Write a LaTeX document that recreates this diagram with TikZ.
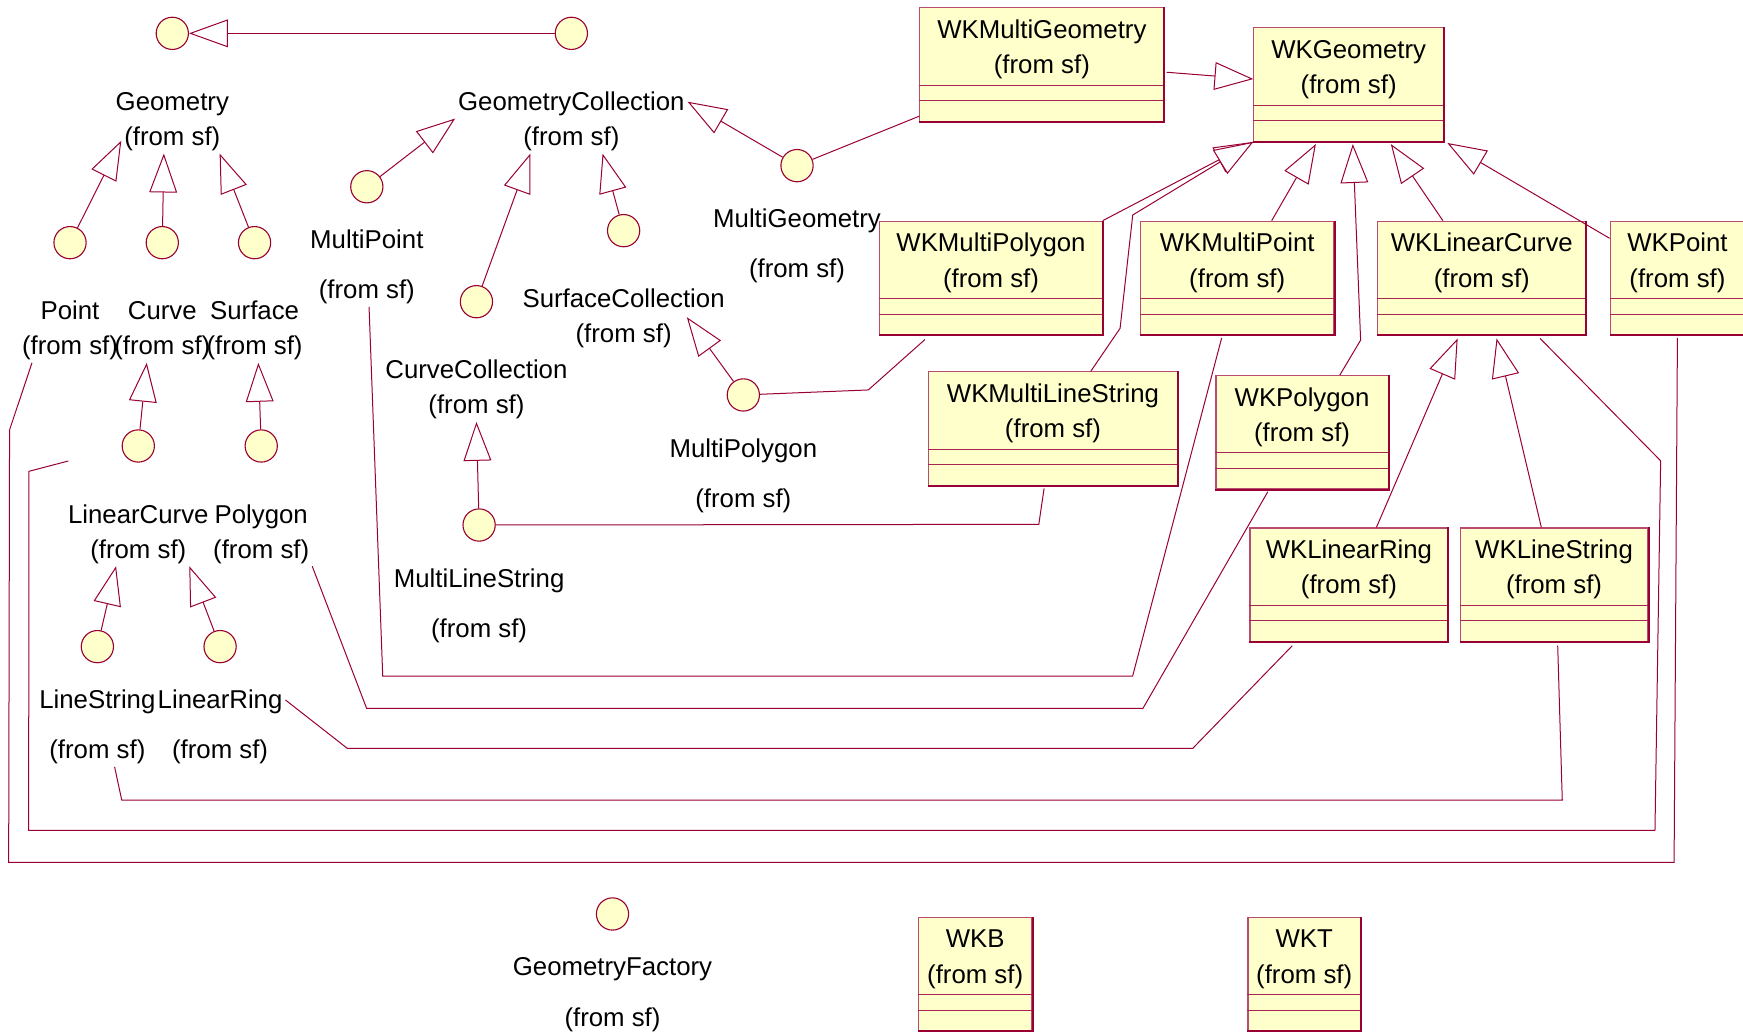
\documentclass[tikz,border=0pt]{standalone}
\usepackage{fontspec}
\setmainfont{Liberation Sans}
\usetikzlibrary{arrows.meta}

\definecolor{umlline}{RGB}{153,0,51}
\definecolor{umlfill}{RGB}{255,255,204}

\tikzset{
  iface/.style={circle, draw=umlline, fill=umlfill, line width=1pt, minimum size=29pt, inner sep=0pt},
  lbl/.style={font=\fontsize{23.2}{27}\selectfont, text height=18.5pt, text depth=2.8pt,
              inner xsep=2.5pt, inner ysep=4.3pt},
  conn/.style={draw=umlline, line width=0.9pt},
  gen/.style={conn, -{Triangle[length=35pt, width=25pt, fill=white]}},
  classbox/.style={rectangle, draw=umlline!70, fill=umlfill, line width=1pt,
                   minimum height=102pt, inner sep=0pt},
  compline/.style={draw=umlline!85, line width=0.9pt},
  boxedge/.style={draw=umlline, line width=1.8pt},
}

% class box: name, left, top, width, title
\newcommand\umlclass[5]{%
  \node[classbox, minimum width=#4pt, anchor=north west] (#1) at (#2,#3) {};
  \draw[compline] ([yshift=-70pt]#1.north west) -- ([yshift=-70pt]#1.north east);
  \draw[compline] ([yshift=-84pt]#1.north west) -- ([yshift=-84pt]#1.north east);
  \draw[boxedge] (#1.north east) -- (#1.south east) -- (#1.south west);
  \node[lbl] (#1-t) at ([yshift=-20pt]#1.north) {#5};
  \node[lbl] (#1-f) at ([yshift=-52pt]#1.north) {(from sf)};
}

% interface icon: name, x, y, title, drop of the title below the icon
\newcommand\umliface[5]{%
  \node[iface] (#1) at (#2,#3) {};
  \node[lbl] (#1-t) at ([yshift=-#5pt]#1.center) {#4};
  \node[lbl] (#1-f) at ([yshift=-93pt]#1.center) {(from sf)};
}

\begin{document}
\begin{tikzpicture}[x=1pt, y=-1pt]
\useasboundingbox (0,0) rectangle (1568,928.4);

% ---- interfaces ----
\umliface{geometry}{155}{30}{Geometry}{61.5}
\umliface{geomcoll}{514}{30}{GeometryCollection}{61.5}
\umliface{point}{63}{218.3}{Point}{61.5}
\umliface{curve}{146}{218.3}{Curve}{61.5}
\umliface{surface}{229}{218.3}{Surface}{61.5}
\umliface{multipoint}{330}{168}{MultiPoint}{47.3}
\umliface{curvecoll}{428.6}{271.4}{CurveCollection}{61.5}
\umliface{surfcoll}{561}{207.5}{SurfaceCollection}{61.5}
\umliface{multigeom}{717}{149}{MultiGeometry}{47.4}
\umliface{multipoly}{668.7}{355.3}{MultiPolygon}{48}
\umliface{multils}{431}{472.3}{MultiLineString}{48}
\umliface{linearcurve}{124.4}{401.2}{LinearCurve}{62}
\umliface{polygon}{235}{401.2}{Polygon}{62}
\umliface{linestring}{87.6}{581.7}{LineString}{48}
\umliface{linearring}{198}{581.7}{LinearRing}{48}
\umliface{geomfactory}{551}{822.2}{GeometryFactory}{47.4}

% ---- classes ----
\umlclass{wkmg}{827}{6.5}{219.5}{WKMultiGeometry}
\umlclass{wkgeom}{1127.5}{24.6}{170.5}{WKGeometry}
\umlclass{wkmpoly}{791}{198.5}{200}{WKMultiPolygon}
\umlclass{wkmpt}{1025.5}{198.5}{174}{WKMultiPoint}
\umlclass{wklc}{1239}{198.5}{187}{WKLinearCurve}
\umlclass{wkpt}{1448}{198.5}{121}{WKPoint}
\umlclass{wkmls}{834.5}{334}{224.5}{WKMultiLineString}
\umlclass{wkpoly}{1093.4}{337.4}{154.8}{WKPolygon}
\umlclass{wklr}{1124}{474.5}{178}{WKLinearRing}
\umlclass{wkls}{1313}{474.5}{169}{WKLineString}
\umlclass{wkb}{825.6}{824.6}{102.3}{WKB}
\umlclass{wkt}{1122.2}{824.6}{101.1}{WKT}

% ---- interface generalizations ----
\draw[gen] (geomcoll) -- (geometry);
\draw[gen] (point) -- ([yshift=-3.6pt]geometry-f.west);
\draw[gen] (curve) -- ([xshift=-7.6pt]geometry-f.south);
\draw[gen] (surface) -- ([xshift=-3.3pt]geometry-f.south east);
\draw[gen] (multipoint) -- (geomcoll-t.south west);
\draw[gen] (curvecoll) -- ([xshift=9pt]geomcoll-f.south west);
\draw[gen] (surfcoll) -- ([xshift=-17.8pt]geomcoll-f.south east);
\draw[gen] (multigeom) -- (geomcoll-t.east);
\draw[gen] (multipoly) -- ([xshift=11pt]surfcoll-f.north east);
\draw[gen] (multils) -- (curvecoll-f.south);
\draw[gen] (linearcurve) -- ([xshift=-14pt]curve-f.south);
\draw[gen] (polygon) -- ([xshift=3.4pt]surface-f.south);
\draw[gen] (linestring) -- ([xshift=-20pt]linearcurve-f.south);
\draw[gen] (linearring) -- (linearcurve-f.south east);

% ---- class generalizations ----
\draw[gen] ([xshift=2pt,yshift=-7pt]wkmg.east) -- ([yshift=5pt]wkgeom.west);
\draw[gen] (wkmpoly.north east) -- (wkgeom.south west);
\draw[gen] ([xshift=34pt]wkmls.north) -- (1007.6,295.4) -- (1019,193.4) -- (wkgeom.south west);
\draw[gen] ([xshift=31pt]wkmpt.north) -- ([xshift=-29.5pt,yshift=-2pt]wkgeom.south);
\draw[gen] ([xshift=34pt]wkpoly.north) -- (1224,306) -- ([xshift=3.75pt,yshift=-2pt]wkgeom.south);
\draw[gen] ([xshift=-35pt]wklc.north) -- ([xshift=37.9pt,yshift=-2pt]wkgeom.south);
\draw[gen] ([yshift=-15.9pt]wkpt.north west) -- ([xshift=3pt,yshift=-1pt]wkgeom.south east);
\draw[gen] ([xshift=24.7pt]wklr.north) -- ([xshift=-21.7pt,yshift=-3pt]wklc.south);
\draw[gen] ([xshift=-11.4pt]wkls.north) -- ([xshift=13.3pt,yshift=-3pt]wklc.south);

% ---- realizations ----
\draw[conn] (multigeom) -- ([yshift=5pt]wkmg.south west);
\draw[conn] (multipoly) -- (781.1,350.8) -- ([xshift=41pt,yshift=-4pt]wkmpoly.south west);
\draw[conn] (multils) -- (934.5,471.7) -- ([xshift=-8pt,yshift=-2.4pt]wkmls.south);
\draw[conn] ([xshift=2pt]multipoint-f.south) -- (344.3,608.2) -- (1018.9,608.2)
            -- ([xshift=-14pt,yshift=-2.5pt]wkmpt.south);
\draw[conn] (polygon-f.south east) -- (329.8,637.2) -- (1028.2,637.2)
            -- ([xshift=-30.8pt,yshift=-2pt]wkpoly.south);
\draw[conn] (linearring-t.east) -- (312.4,673.2) -- (1073,673.2)
            -- ([xshift=-51pt,yshift=-3.4pt]wklr.south);
\draw[conn] ([xshift=15.5pt]linestring-f.south) -- (109.5,719.7) -- (1405.4,719.7)
            -- ([xshift=3.3pt,yshift=-3.4pt]wkls.south);
\coordinate (lcend) at (61.5,414.7);
\draw[conn] ([xshift=52.5pt,yshift=-3pt]wklc.south) -- (1493.9,414.5) -- (1488.8,747)
            -- (25.8,747) -- (26,424) -- (lcend);
\draw[conn] ([yshift=-2.5pt]wkpt.south) -- (1506,775.8) -- (7.8,775.8) -- (8.6,386.8)
            -- ([xshift=11.6pt]point-f.south west);
\end{tikzpicture}
\end{document}
